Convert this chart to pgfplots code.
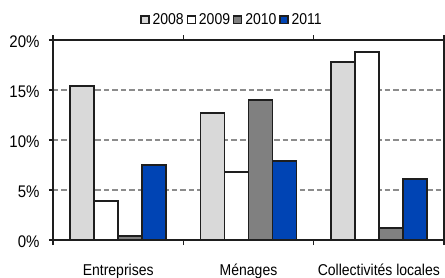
\documentclass[border=0pt]{standalone}
\usepackage{graphicx}
\usepackage{pgfplots}
\pgfplotsset{compat=1.18}
\usepackage{fontspec}
\setmainfont{Liberation Sans}
\newcommand{\vs}[1]{\scalebox{1}[1.12]{#1}}
\definecolor{c2008}{RGB}{217,217,217}
\definecolor{c2009}{RGB}{255,255,255}
\definecolor{c2010}{RGB}{128,128,128}
\definecolor{c2011}{RGB}{0,68,180}
\definecolor{gridc}{RGB}{140,140,140}
\definecolor{edge}{RGB}{30,30,30}
\begin{document}
\begin{tikzpicture}
\begin{axis}[
  anchor=south west,
  scale only axis, width=391pt, height=200pt,
  ybar, bar width=24pt, ybar=0pt,
  xmin=-0.5, xmax=2.5, ymin=0, ymax=20,
  xtick={0,1,2}, xticklabels={\vs{Entreprises},\vs{Ménages},\vs{Collectivités locales}},
  major x tick style={draw=none},
  minor xtick={-0.5,0.5,1.5,2.5},
  minor x tick style={draw=edge, line width=1.4pt},
  minor tick length=5pt,
  xticklabel style={anchor=base, yshift=-31pt, font=\fontsize{14}{16}\selectfont},
  ytick={0,5,10,15,20}, yticklabels={\vs{0\%},\vs{5\%},\vs{10\%},\vs{15\%},\vs{20\%}},
  yticklabel style={font=\fontsize{15}{17}\selectfont, xshift=-6pt, yshift=-2pt},
  tick align=outside, major tick length=4pt,
  y tick style={edge, line width=1.4pt},
  ymajorgrids, grid style={gridc, line width=1.6pt, dash pattern=on 5.5pt off 3pt},
  axis line style={line width=1.6pt, edge},
  every axis plot/.append style={draw=edge, line width=1.5pt},
  legend style={at={(0.458,1)}, anchor=center, yshift=20pt, draw=none, legend columns=-1,
    font=\fontsize{14}{16}\selectfont, column sep=1pt, inner sep=0pt,
    /tikz/every odd column/.style={column sep=1pt}},
  legend image code/.code={\draw[#1, line width=1.2pt] (0pt,-3.5pt) rectangle (8pt,4pt);},
]
\addplot[fill=c2008] coordinates {(0,15.4) (1,12.7) (2,17.8)};
\addplot[fill=c2009] coordinates {(0,3.9) (1,6.8) (2,18.8)};
\addplot[fill=c2010] coordinates {(0,0.4) (1,14.0) (2,1.2)};
\addplot[fill=c2011] coordinates {(0,7.5) (1,7.9) (2,6.1)};
\legend{\vs{2008},\vs{2009},\vs{2010},\vs{2011}}
\end{axis}
\pgfresetboundingbox
\path (-53pt,-37pt) rectangle (392pt,240pt);
\end{tikzpicture}
\end{document}
